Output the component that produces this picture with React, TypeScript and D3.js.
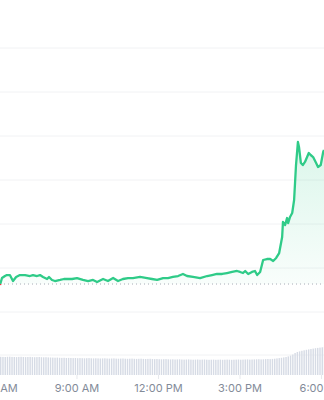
import React from "react";
import * as d3 from "d3";

// Price series: hour of day (decimal) and price (USD)
const hours = [
  6.167, 6.24, 6.35, 6.42, 6.53, 6.645, 6.76, 6.9, 7.09, 7.27, 7.38, 7.53, 7.64, 7.75, 7.9, 7.97,
  8.08, 8.19, 8.38, 8.52, 8.63, 8.82, 9.0, 9.22, 9.41, 9.59, 9.74, 9.96, 10.14, 10.33, 10.51,
  10.69, 10.88, 11.06, 11.32, 11.58, 11.76, 11.95, 12.17, 12.35, 12.53, 12.72, 12.9, 13.05,
  13.27, 13.53, 13.79, 13.97, 14.15, 14.34, 14.52, 14.71, 14.89, 15.0, 15.11, 15.19, 15.3,
  15.44, 15.55, 15.63, 15.74, 15.85, 15.99, 16.11, 16.22, 16.33, 16.44, 16.55, 16.58, 16.66,
  16.73, 16.77, 16.84, 16.92, 16.99, 17.06, 17.13, 17.17, 17.24, 17.31, 17.39, 17.53, 17.6,
  17.69, 17.8, 17.87, 17.97, 18.06, 18.09,
];
const prices = [
  0.8307, 0.8386, 0.8409, 0.842, 0.842, 0.8352, 0.8398, 0.842, 0.842, 0.8409, 0.842, 0.8409,
  0.842, 0.8398, 0.8375, 0.8398, 0.8364, 0.8352, 0.8364, 0.8375, 0.8375, 0.8375, 0.8386,
  0.8364, 0.8352, 0.8364, 0.8341, 0.8375, 0.8352, 0.8386, 0.8352, 0.8375, 0.8386, 0.8386,
  0.8398, 0.8386, 0.8375, 0.8364, 0.8386, 0.8386, 0.8398, 0.8409, 0.8432, 0.8409, 0.8398,
  0.8386, 0.8409, 0.842, 0.8432, 0.8432, 0.8443, 0.8455, 0.8466, 0.8455, 0.8443, 0.8466,
  0.8432, 0.8455, 0.8466, 0.842, 0.8455, 0.8591, 0.8602, 0.8602, 0.858, 0.8614, 0.867,
  0.8852, 0.9023, 0.8989, 0.9068, 0.9011, 0.908, 0.9125, 0.9273, 0.967, 0.9932, 0.9875,
  0.9693, 0.967, 0.9705, 0.9807, 0.9784, 0.9761, 0.9693, 0.9648, 0.967, 0.9818, 0.9841,
];
const openPrice = 0.8318;

// 5-minute volume bars (millions), starting 6:10
const volumeStart = 6.167;
const volumeStep = 5 / 60;
const volumes = [
  18.2, 18.1, 18.0, 18.2, 18.3, 18.1, 18.0, 17.9, 18.1, 18.2, 18.0, 17.9, 18.0, 18.1, 17.9, 17.8,
  17.9, 18.0, 17.8, 17.7, 17.8, 17.6, 17.5,
  17.4, 17.3, 17.4, 17.2, 17.1, 17.2, 17.0, 17.1, 17.0, 16.9, 17.0, 16.8, 16.9, 16.8, 16.7, 16.8,
  16.9, 16.7, 16.6, 16.7, 16.6, 16.5, 16.6, 16.7, 16.5, 16.4, 16.5, 16.6, 16.4, 16.3, 16.4, 16.5,
  16.3, 16.2, 16.3, 16.4, 16.2, 16.1, 16.2, 16.3, 16.1, 16.0, 16.1, 16.2,
  16.0, 15.9, 16.0, 15.8, 15.7, 15.8, 15.9, 15.7, 15.6, 15.7, 15.5, 15.6, 15.7, 15.5, 15.4, 15.5,
  15.6, 15.4, 15.3, 15.4, 15.5, 15.3, 15.4, 15.5, 15.3, 15.2, 15.3, 15.4, 15.2, 15.3, 15.4, 15.2,
  15.3, 15.4, 15.3, 15.2, 15.3, 15.4, 15.5, 15.3, 15.4, 15.5, 15.6, 15.4, 15.5, 15.6, 15.7, 15.8,
  15.6, 15.7, 15.9, 16.0, 15.9, 16.1,
  16.3, 16.6, 16.9, 17.2, 17.6, 18.0, 18.6, 19.4, 20.5, 22.0,
  23.0, 23.6, 24.2, 24.7, 25.2, 25.6, 26.0, 26.4, 26.8, 27.1, 27.4, 27.7, 28.0,
];

const tickHours = [6, 9, 12, 15, 18];
const tickLabels = ["6:00 AM", "9:00 AM", "12:00 PM", "3:00 PM", "6:00 PM"];
const gridPrices = [0.8, 0.85, 0.9, 0.95, 1.0, 1.05, 1.1];

const W = 324;
const H = 400;
const GREEN = "#2fcb88";
const RED = "#ea3943";

export default function App() {
  const x = d3.scaleLinear().domain([6.167, 18.09]).range([0, 324]);
  const y = d3.scaleLinear().domain([0.8, 1.1]).range([312, 48]);
  const yv = d3.scaleLinear().domain([0, 30]).range([375, 345]);

  const pts: [number, number][] = hours.map((h, i) => [h, prices[i]]);
  const line = d3
    .line<[number, number]>()
    .x((d) => x(d[0]))
    .y((d) => y(d[1]));
  const area = d3
    .area<[number, number]>()
    .x((d) => x(d[0]))
    .y0(y(openPrice))
    .y1((d) => y(d[1]));
  const base = y(openPrice);

  return (
    <svg
      width={W}
      height={H}
      style={{ position: "fixed", left: 0, top: 0, background: "#fff" }}
      fontFamily="Inter, 'Noto Sans', sans-serif"
    >
      <defs>
        <clipPath id="above">
          <rect x={0} y={0} width={W} height={base} />
        </clipPath>
        <clipPath id="below">
          <rect x={0} y={base} width={W} height={H - base} />
        </clipPath>
        <linearGradient id="gfill" gradientUnits="userSpaceOnUse" x1={0} y1={y(0.99)} x2={0} y2={base}>
          <stop offset="0" stopColor={GREEN} stopOpacity={0.17} />
          <stop offset="1" stopColor={GREEN} stopOpacity={0.03} />
        </linearGradient>
      </defs>
      {gridPrices.map((p) => (
        <line key={p} x1={0} x2={W} y1={y(p)} y2={y(p)} stroke="#f1f2f4" strokeWidth={1} />
      ))}
      <line x1={0} x2={W} y1={yv(20)} y2={yv(20)} stroke="#f1f2f4" strokeWidth={1} />
      {volumes.map((v, i) => {
        const bx = x(volumeStart + i * volumeStep);
        return (
          <rect key={i} x={bx} y={yv(v)} width={1.4} height={yv(0) - yv(v)} fill="#d6dbe5" />
        );
      })}
      {tickHours.map((h) => (
        <line key={h} x1={x(h)} x2={x(h)} y1={375} y2={379} stroke="#e6e8ec" strokeWidth={1} />
      ))}
      <path d={area(pts) || ""} fill="url(#gfill)" clipPath="url(#above)" />
      <line
        x1={0}
        x2={W}
        y1={base}
        y2={base}
        stroke="#a6acb6"
        strokeWidth={1}
        strokeDasharray="1 3"
      />
      <path d={line(pts) || ""} fill="none" stroke={GREEN} strokeWidth={2.3} strokeLinejoin="round" clipPath="url(#above)" />
      <path d={line(pts) || ""} fill="none" stroke={RED} strokeWidth={2.3} strokeLinejoin="round" clipPath="url(#below)" />
      {tickHours.map((h, i) => (
        <text
          key={h}
          x={x(h)}
          y={392}
          textAnchor="middle"
          fontSize={11}
          fill="#838b99"
        >
          {tickLabels[i]}
        </text>
      ))}
    </svg>
  );
}
